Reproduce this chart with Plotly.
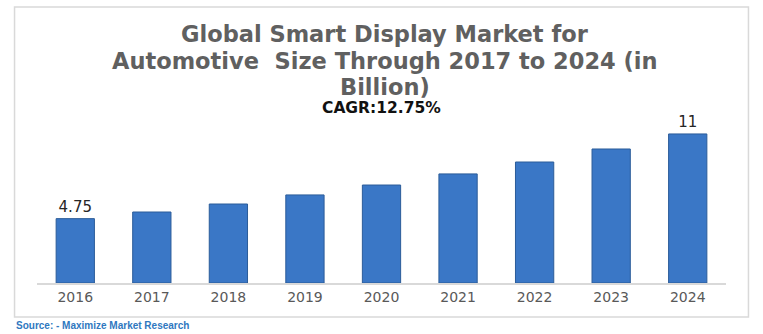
import plotly.graph_objects as go

years = ["2016", "2017", "2018", "2019", "2020", "2021", "2022", "2023", "2024"]
values = [4.75, 5.24, 5.83, 6.5, 7.23, 8.05, 8.93, 9.89, 11]
labels = ["4.75", "", "", "", "", "", "", "", "11"]

title_lines = ["Global Smart Display Market for",
               "Automotive  Size Through 2017 to 2024 (in",
               "Billion)"]
cagr_text = "CAGR:12.75%"
source_text = "Source: - Maximize Market Research"

W, H = 763, 334
ml, mr, mt, mb = 36.5, 36.5, 120, 51
pw, ph = W - ml - mr, H - mt - mb

def px(x):
    return (x - ml) / pw

def py(y):
    return (H - mb - y) / ph

fig = go.Figure(go.Bar(
    x=years, y=values, text=labels, textposition="outside",
    textfont=dict(family="DejaVu Sans", size=15, color="#262626"),
    marker=dict(color="#3A77C6", line=dict(color="#2B5C99", width=1)),
    cliponaxis=False,
))

annotations = []
for txt, yy in zip(title_lines, [34, 61, 87]):
    annotations.append(dict(text="<b>" + txt + "</b>", x=px(385), y=py(yy), xref="paper", yref="paper",
                            showarrow=False, xanchor="center", yanchor="middle",
                            font=dict(family="DejaVu Sans", size=22.5, color="#606060")))
annotations.append(dict(text="<b>" + cagr_text + "</b>", x=px(382), y=py(108), xref="paper", yref="paper",
                        showarrow=False, xanchor="center", yanchor="middle",
                        font=dict(family="DejaVu Sans", size=15.5, color="#111111")))
annotations.append(dict(text="<b>" + source_text + "</b>", x=px(13), y=py(325), xref="paper", yref="paper",
                        showarrow=False, xanchor="left", yanchor="middle",
                        font=dict(family="Liberation Sans", size=10, color="#2F78C0")))

fig.update_layout(
    width=W, height=H,
    margin=dict(l=ml, r=mr, t=mt, b=mb, pad=0),
    paper_bgcolor="white", plot_bgcolor="white",
    showlegend=False,
    bargap=0.5,
    annotations=annotations,
    shapes=[dict(type="rect", xref="paper", yref="paper",
                 x0=px(14), x1=px(749), y0=py(317), y1=py(7),
                 line=dict(color="#D9D9D9", width=1.5), layer="below")],
    xaxis=dict(showline=True, linecolor="#D9D9D9", linewidth=1.5, ticks="", showgrid=False,
               tickfont=dict(family="DejaVu Sans", size=14, color="#595959")),
    yaxis=dict(visible=False, range=[0, 163 / 13.55], showgrid=False, zeroline=False),
)

fig.write_html("out.html")
